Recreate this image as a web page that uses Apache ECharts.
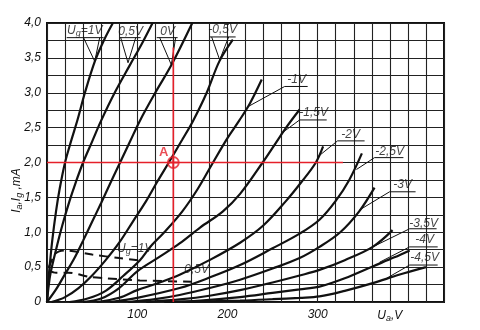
<!DOCTYPE html>
<html><head><meta charset="utf-8">
<script src="https://cdn.jsdelivr.net/npm/echarts@6/dist/echarts.min.js"></script>
<style>html,body{margin:0;padding:0;background:#fff}#c{width:480px;height:330px}</style>
</head><body><div id="c"></div>
<script>
// ---- data (Ua in V, Ia in mA) ----
const xMax = 440, yMax = 4;
const yTickLabels = {0:'0',0.5:'0,5',1:'1,0',1.5:'1,5',2:'2,0',2.5:'2,5',3:'3,0',3.5:'3,5',4:'4,0'};
const xTickLabels = {100:'100',200:'200',300:'300',380:'{n|U}{s|a}{n|,V}'};

const ugP1   = [[0,0],[1,0.2],[2.5,0.45],[6,0.9],[10,1.3],[14,1.62],[20,2.0],[27,2.32],[34,2.62],[42,3.0],[53,3.45],[63,3.75],[73,4.0]];
const ugP05  = [[0,0],[2,0.25],[4,0.42],[10,0.75],[17,1.1],[25,1.45],[32,1.72],[40,2.0],[50,2.3],[60,2.6],[75,3.0],[92,3.4],[105,3.7],[117,4.0]];
const ug0    = [[0,0],[10,0.18],[20,0.4],[30,0.62],[40,0.88],[50,1.15],[60,1.42],[70,1.7],[81,2.0],[92,2.3],[103,2.6],[120,3.0],[138,3.4],[161,4.0]];
const ugM05  = [[5,0],[20,0.07],[35,0.2],[50,0.38],[65,0.6],[80,0.85],[95,1.15],[110,1.45],[122,1.72],[135,2.0],[150,2.33],[162,2.6],[177,3.0],[191,3.45],[206,3.76]];
const ugM1   = [[25,0],[45,0.05],[65,0.16],[85,0.38],[103,0.6],[115,0.8],[130,1.0],[150,1.3],[167,1.62],[184,2.0],[200,2.35],[213,2.6],[225,2.85],[238,3.19]];
const ugM15  = [[40,0],[60,0.05],[80,0.2],[100,0.44],[125,0.65],[147,0.84],[170,1.07],[195,1.3],[214,1.55],[239,2.0],[252,2.25],[265,2.5],[280,2.76]];
const ugM2   = [[55,0],[80,0.06],[100,0.17],[125,0.28],[147,0.39],[180,0.6],[214,0.85],[240,1.1],[265,1.45],[282,1.72],[298,2.0],[306,2.23]];
const ugM25  = [[70,0],[100,0.06],[147,0.2],[180,0.35],[214,0.53],[250,0.77],[280,0.98],[302,1.18],[320,1.45],[335,1.75],[349,2.13]];
const ugM3   = [[90,0],[120,0.04],[147,0.1],[180,0.2],[214,0.32],[250,0.48],[280,0.63],[302,0.79],[325,1.0],[346,1.3],[363,1.64]];
const ugM35  = [[110,0],[150,0.04],[180,0.09],[214,0.17],[250,0.28],[280,0.38],[302,0.46],[330,0.6],[361,0.79],[383,1.03]];
const ugM4   = [[130,0],[170,0.02],[214,0.07],[250,0.13],[280,0.18],[302,0.22],[330,0.34],[361,0.51],[385,0.64],[402,0.74]];
const ugM45  = [[150,0],[214,0.02],[250,0.04],[280,0.06],[302,0.08],[330,0.16],[361,0.27],[390,0.39],[420,0.5]];
const igP1   = [[2,0.5],[10,0.7],[20,0.74],[50,0.68],[80,0.63],[101,0.6]];
const igP05  = [[2,0.45],[10,0.42],[24,0.42],[47,0.36],[66,0.34],[103,0.31],[162,0.29]];

const curveNames = ['U{s|g}=1V','0,5V','0V','-0,5V','-1V','-1,5V','-2V','-2,5V','-3V','-3,5V','-4V','-4,5V'];
const labelAt = [[41.8,3.89],[92.7,3.88],[133.7,3.88],[194.7,3.91],[276.7,3.19],[295.5,2.71],[336.5,2.40],[379.7,2.16],[394.1,1.68],[417.4,1.13],[418.5,0.89],[418.5,0.64]];
const igNames = ['U{s|g}=1V','0,5V'];
const igLabelAt = [[97.2,0.76],[165.9,0.46]];
// leader lines / underlines (data coords)
const leaders = [
  [[21.8,3.79],[62.8,3.79]], [[40.5,3.79],[52.9,3.45],[58.4,3.79]],
  [[80.6,3.79],[103.8,3.79]], [[81.7,3.79],[89.8,3.43],[98.3,3.79]],
  [[121.6,3.79],[144.8,3.79]], [[124.9,3.79],[137.8,3.40],[142.6,3.79]],
  [[180.3,3.80],[209.1,3.80]], [[182.5,3.80],[191.4,3.47],[201.3,3.80]],
  [[288.9,3.09],[263.4,3.09],[222.7,2.80]],
  [[310,2.61],[280,2.61],[259,2.41]],
  [[352,2.31],[322,2.31],[300,2.08]],
  [[395,2.07],[363,2.07],[343,1.90]],
  [[408.5,1.58],[379.7,1.58],[346.5,1.32]],
  [[431.8,1.05],[401.9,1.05],[361,0.79]],
  [[433,0.79],[401.9,0.79],[368.6,0.57]],
  [[433,0.53],[401.9,0.53],[376.4,0.34]]
];
const pointA = [140, 2.0];
const redH = [[0,2.0],[328,2.0]];
const redV = [[140,0],[140,3.65]];

const curves = [ugP1,ugP05,ug0,ugM05,ugM1,ugM15,ugM2,ugM25,ugM3,ugM35,ugM4,ugM45];

// ---- chart ----
const FF = "'Liberation Sans', Arial, sans-serif";
const rich = {
  n:{fontFamily:FF,fontStyle:'italic',fontSize:12,color:'#111'},
  s:{fontFamily:FF,fontStyle:'italic',fontSize:9,color:'#111',padding:[5,0,0,0]}
};
function richName(t){
  if (t.indexOf('{')<0) return '{n|'+t+'}';
  return '{n|U}'+t.slice(1).replace(/=1V$/,'{n|=1V}');
}
const series = [];
curves.forEach(d=>series.push({type:'line',data:d,smooth:0.35,symbol:'none',
  lineStyle:{color:'#111',width:2.2},z:5,silent:true}));
[igP1,igP05].forEach(d=>series.push({type:'line',data:d,smooth:0.3,symbol:'none',
  lineStyle:{color:'#111',width:2,type:[9,6]},z:5}));
series.push({type:'line',data:redH,symbol:'none',lineStyle:{color:'#e5202a',width:1.6},z:6});
series.push({type:'line',data:redV,symbol:'none',lineStyle:{color:'#e5202a',width:1.6},z:6});
series.push({type:'scatter',data:[pointA],z:7,
  symbol:'path://M0,-6A6,6 0 1,1 0,6A6,6 0 1,1 0,-6ZM-6,0L6,0M0,-6L0,6',symbolSize:11,
  itemStyle:{color:'rgba(0,0,0,0)',borderColor:'#e5202a',borderWidth:1.8},
  label:{show:true,formatter:'A',position:[-8,-10],color:'#e5202a',fontSize:13,fontFamily:FF,fontWeight:'bold'}});
series.push({type:'lines',coordinateSystem:'cartesian2d',polyline:true,z:6,
  data:leaders.map(c=>({coords:c})),lineStyle:{color:'#111',width:1,opacity:1}});
series.push({type:'scatter',symbolSize:0,z:8,
  data:labelAt.map((p,i)=>({value:p,label:{formatter:richName(curveNames[i])}})),
  label:{show:true,position:'inside',rich:rich}});
series.push({type:'scatter',symbolSize:0,z:8,
  data:igLabelAt.map((p,i)=>({value:p,label:{formatter:richName(igNames[i])}})),
  label:{show:true,position:'inside',rich:rich}});

const chart = echarts.init(document.getElementById('c'));
chart.setOption({
  animation:false,
  backgroundColor:'#fff',
  grid:{left:47,right:36,top:23,bottom:28,containLabel:false,outerBoundsMode:'none',
    show:true,borderColor:'#111',borderWidth:2,backgroundColor:'transparent'},
  xAxis:{type:'value',min:0,max:xMax,interval:20,
    axisLine:{show:false},axisTick:{show:false},
    splitLine:{show:true,lineStyle:{color:'#222',width:1.1}},
    axisLabel:{margin:7,formatter:v=>xTickLabels[v]||'',rich:rich,fontFamily:FF,fontStyle:'italic',fontSize:12,color:'#111',showMaxLabel:false}},
  yAxis:{type:'value',min:0,max:yMax,interval:0.25,
    axisLine:{show:false},axisTick:{show:false},
    splitLine:{show:true,lineStyle:{color:'#222',width:1.1}},
    name:'{n|I}{s|a}{n|,I}{s|g}{n| ,mA}',nameLocation:'middle',nameGap:23,nameRotate:90,nameMoveOverlap:false,
    nameTextStyle:{rich:rich,padding:[0,56,0,0]},
    axisLabel:{margin:6,formatter:v=>(yTickLabels[v]!==undefined?yTickLabels[v]:''),fontFamily:FF,fontStyle:'italic',fontSize:12,color:'#111'}},
  series:series
});
</script></body></html>
